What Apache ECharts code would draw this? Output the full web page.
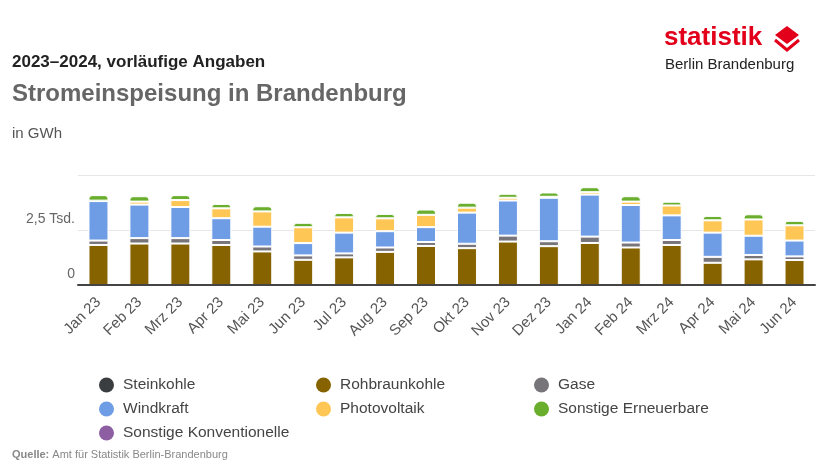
<!DOCTYPE html>
<html>
<head>
<meta charset="utf-8">
<script src="https://cdn.jsdelivr.net/npm/echarts@6/dist/echarts.min.js"></script>
<style>
html,body{margin:0;padding:0;background:#fff;}
#chart{width:826px;height:465px;}
</style>
</head>
<body>
<div id="chart"></div>
<script>
// Data (GWh)
const months = ['Jan 23','Feb 23','Mrz 23','Apr 23','Mai 23','Jun 23','Jul 23','Aug 23','Sep 23','Okt 23','Nov 23','Dez 23','Jan 24','Feb 24','Mrz 24','Apr 24','Mai 24','Jun 24'];
const steinkohle = [0,0,0,0,0,0,0,0,0,0,0,0,0,0,0,0,0,0];
const rohbraunkohle = [1820,1885,1885,1820,1525,1145,1255,1505,1775,1675,1975,1765,1910,1705,1820,1010,1165,1135];
const gase = [200,245,245,225,225,200,180,200,180,200,270,225,290,225,225,270,200,165];
const windkraft = [1795,1525,1415,990,900,560,945,740,675,1415,1595,1975,1910,1705,1120,1100,875,720];
const photovoltaik = [20,135,315,450,695,720,695,585,560,225,125,45,110,155,450,560,740,695];
const sonstigeErneuerbare = [250,245,225,200,235,200,200,200,240,225,180,195,225,245,170,200,235,200];
const sonstigeKonventionelle = [0,0,0,0,0,0,0,0,0,0,0,0,0,0,0,0,0,0];
const yTicks = {0:'0', 2500:'2,5 Tsd.'};

const FONT = '"Liberation Sans", Arial, sans-serif';
const seriesDefs = [
  {name:'Steinkohle', data:steinkohle, color:'#3b3e40'},
  {name:'Rohbraunkohle', data:rohbraunkohle, color:'#876300'},
  {name:'Gase', data:gase, color:'#77747a'},
  {name:'Windkraft', data:windkraft, color:'#6e9de6'},
  {name:'Photovoltaik', data:photovoltaik, color:'#fec655'},
  {name:'Sonstige Erneuerbare', data:sonstigeErneuerbare, color:'#6aae2d', top:true},
  {name:'Sonstige Konventionelle', data:sonstigeKonventionelle, color:'#8e5ea2'}
];

const legendPos = [
  [94,372],[311,372],[529,372],
  [94,396],[311,396],[529,396],
  [94,420]
];

const chart = echarts.init(document.getElementById('chart'));
chart.setOption({
  animation:false,
  textStyle:{fontFamily:FONT},
  grid:{left:78, right:11, top:175, bottom:180, containLabel:false},
  xAxis:{
    type:'category', data:months, z:10,
    axisLine:{lineStyle:{color:'#444', width:2}},
    axisTick:{show:false},
    axisLabel:{rotate:45, color:'#555', fontSize:15, fontFamily:FONT, margin:15, padding:[5,0,0,0], interval:0}
  },
  yAxis:{
    type:'value', min:0, max:5000, interval:2500,
    splitLine:{lineStyle:{color:'#e6e6e6', width:1}},
    axisLine:{show:false}, axisTick:{show:false},
    axisLabel:{
      color:'#666', fontSize:14, fontFamily:FONT, margin:3,
      verticalAlign:'bottom', padding:[0,0,4,0], showMaxLabel:false,
      formatter:v => (yTicks[v] !== undefined ? yTicks[v] : '')
    }
  },
  legend: seriesDefs.map((s,i)=>({
    data:[s.name], left:legendPos[i][0], top:legendPos[i][1],
    icon:'circle', itemWidth:15, itemHeight:15, selectedMode:false,
    itemStyle:{borderWidth:0},
    textStyle:{color:'#444', fontSize:15.5, fontFamily:FONT, padding:[0,0,0,4]}
  })),
  series: seriesDefs.map(s=>({
    name:s.name, type:'bar', stack:'total', data:s.data, barWidth:20,
    itemStyle:{color:s.color, borderColor:'#fff',
      borderWidth: s.data.some(v=>v>0) ? 1 : 0,
      borderRadius: s.top ? [3,3,0,0] : 0},
    emphasis:{disabled:true}
  })),
  graphic:[
    {type:'text', left:12, top:54, style:{text:'2023–2024, vorläufige Angaben', font:'bold 17px '+FONT, fill:'#222'}},
    {type:'text', left:12, top:82, style:{text:'Stromeinspeisung in Brandenburg', font:'bold 24px '+FONT, fill:'#666'}},
    {type:'text', left:12, top:126, style:{text:'in GWh', font:'15px '+FONT, fill:'#555'}},
    {type:'text', left:664, top:25, style:{text:'statistik', font:'bold 26px '+FONT, fill:'#e2001a'}},
    {type:'text', left:665, top:57, style:{text:'Berlin Brandenburg', font:'15px '+FONT, fill:'#222'}},
    {type:'polygon', shape:{points:[[787,26],[799,35],[787,44],[775,35]]}, style:{fill:'#e2001a'}},
    {type:'polyline', shape:{points:[[775,40],[787,50],[799,40]]}, style:{stroke:'#e2001a', lineWidth:3, fill:null}},
    {type:'text', left:12, top:449, style:{
      text:'{b|Quelle:} Amt für Statistik Berlin-Brandenburg',
      rich:{b:{fontWeight:'bold', fontSize:11, fill:'#888', fontFamily:FONT}},
      font:'11px '+FONT, fill:'#888'}}
  ]
});
</script>
</body>
</html>
